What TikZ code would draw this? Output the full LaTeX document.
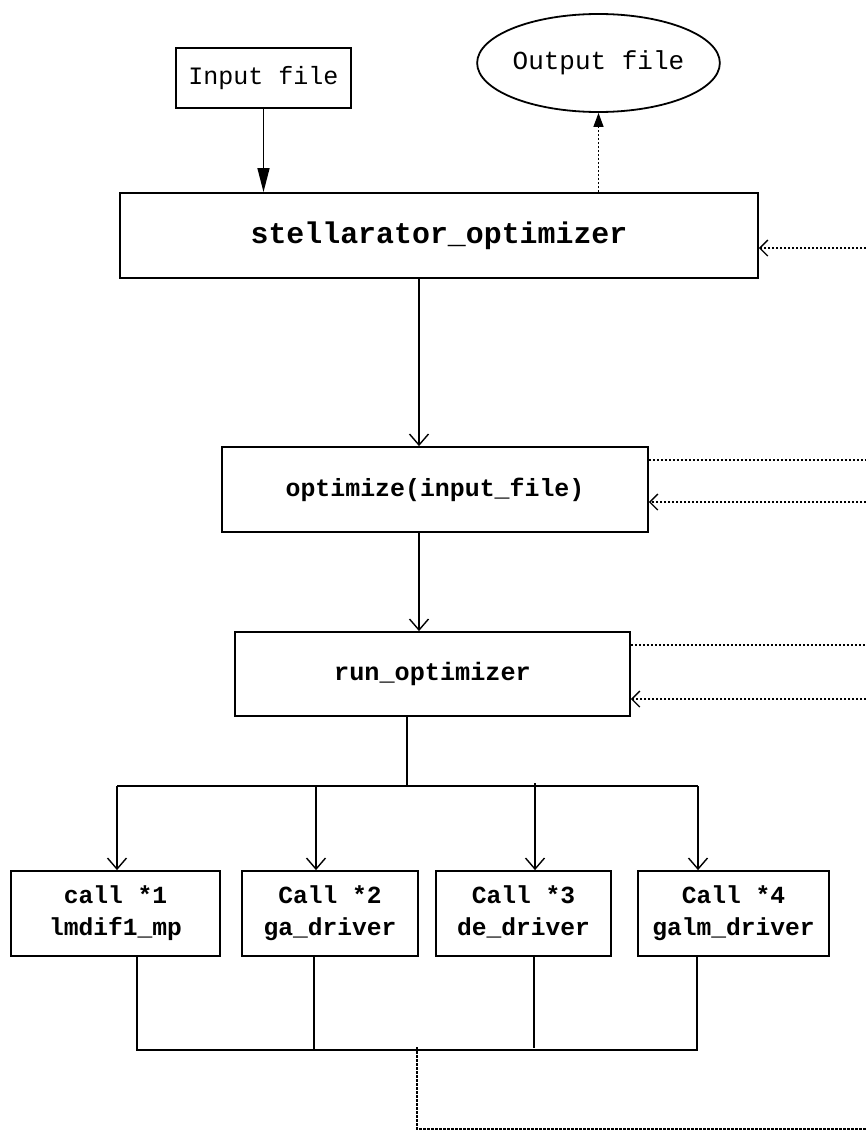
\documentclass[tikz,border=0pt]{standalone}
\usepackage{fontspec}
\newfontfamily\mono{Liberation Mono}
\usetikzlibrary{shapes.geometric,arrows.meta}
\tikzset{
  box/.style={draw, line width=1.8pt, inner sep=0pt, align=center, font=\mono\bfseries},
  link/.style={line width=1.4pt},
  dots/.style={line width=1.3pt, dash pattern=on 2.5pt off 1.5pt},
  openarr/.style={-{Straight Barb[length=11pt,width=19pt,line width=1.4pt]}},
  dotarr/.style={-{Straight Barb[length=8pt,width=16pt,line width=1.3pt]}},
  fillarr/.style={-{Triangle[length=24pt,width=12pt]}},
  smallfill/.style={-{Triangle[length=14pt,width=10pt]}}
}
\begin{document}
\begin{tikzpicture}[x=1pt,y=-1pt]
\useasboundingbox (0,0) rectangle (866,1132);
\fill[white] (0,0) rectangle (866,1132);
% nodes
\node[draw, line width=1.8pt, inner sep=0pt, minimum width=175, minimum height=60, font=\mono\fontsize{25}{30}\selectfont] (in) at (263.5,78) {Input file};
\node[draw, ellipse, line width=1.8pt, inner sep=0pt, minimum width=241, minimum height=98, font=\mono\fontsize{26}{30}\selectfont] (out) at (598.5,63) {Output file};
\node[box, minimum width=638, minimum height=85, font=\mono\bfseries\fontsize{29.9}{34}\selectfont] (stell) at (439,235.5) {stellarator\_optimizer};
\node[box, minimum width=426, minimum height=85, font=\mono\bfseries\fontsize{24.9}{30}\selectfont] (opt) at (435,489.5) {optimize(input\_file)};
\node[box, minimum width=395, minimum height=84, font=\mono\bfseries\fontsize{25.2}{30}\selectfont] (run) at (432.5,674) {run\_optimizer};
\node[box, minimum width=209, minimum height=85, font=\mono\bfseries\fontsize{24.6}{32}\selectfont] (c1) at (115.5,913.5) {\strut call *1\\\strut lmdif1\_mp};
\node[box, minimum width=176, minimum height=85, font=\mono\bfseries\fontsize{24.6}{32}\selectfont] (c2) at (330,913.5) {\strut Call *2\\\strut ga\_driver};
\node[box, minimum width=175, minimum height=85, font=\mono\bfseries\fontsize{24.6}{32}\selectfont] (c3) at (523.5,913.5) {\strut Call *3\\\strut de\_driver};
\node[box, minimum width=191, minimum height=85, font=\mono\bfseries\fontsize{24.6}{32}\selectfont] (c4) at (733.5,913.5) {\strut Call *4\\\strut galm\_driver};
% helper coordinates
\coordinate (xa) at (419,0);
\coordinate (xo) at (598.5,0);
\coordinate (bus) at (407,786);
\coordinate (a1) at (117,786);
\coordinate (a2) at (316,786);
\coordinate (a3) at (535,783);
\coordinate (a4) at (698,786);
\coordinate (d1) at (137,1050);
\coordinate (d2) at (314,1050);
\coordinate (d3) at (534,1048);
\coordinate (d4) at (697,1050);
\coordinate (fb) at (417,1047);
\coordinate (fc) at (417,1129);
\coordinate (fr) at (866,1129);
\coordinate (r0) at (866,248);
\coordinate (r1) at (866,460);
\coordinate (r2) at (866,502);
\coordinate (r3) at (866,645);
\coordinate (r4) at (866,699);
% main flow
\draw[link, fillarr] (in.south) -- (stell.north -| in.south);
\draw[dots, smallfill] (stell.north -| xo) -- (out.south);
\draw[link, openarr] (stell.south -| xa) -- (opt.north -| xa);
\draw[link, openarr] (opt.south -| xa) -- (run.north -| xa);
\draw[link] (run.south -| bus) -- (bus);
\draw[link] (a1) -- (a4);
\draw[link, openarr] (a1) -- (c1.north -| a1);
\draw[link, openarr] (a2) -- (c2.north -| a2);
\draw[link, openarr] (a3) -- (c3.north -| a3);
\draw[link, openarr] (a4) -- (c4.north -| a4);
% collector
\draw[link] (c1.south -| d1) -- (d1) -- (d4) -- (c4.south -| d4);
\draw[link] (c2.south -| d2) -- (d2);
\draw[link] (c3.south -| d3) -- (d3);
\draw[dots] (fb) -- (fc) -- (fr);
% feedback lines on the right
\draw[dots, dotarr] (r0) -- (stell.east |- r0);
\draw[dots] (opt.east |- r1) -- (r1);
\draw[dots, dotarr] (r2) -- (opt.east |- r2);
\draw[dots] (run.east |- r3) -- (r3);
\draw[dots, dotarr] (r4) -- (run.east |- r4);
\end{tikzpicture}
\end{document}
